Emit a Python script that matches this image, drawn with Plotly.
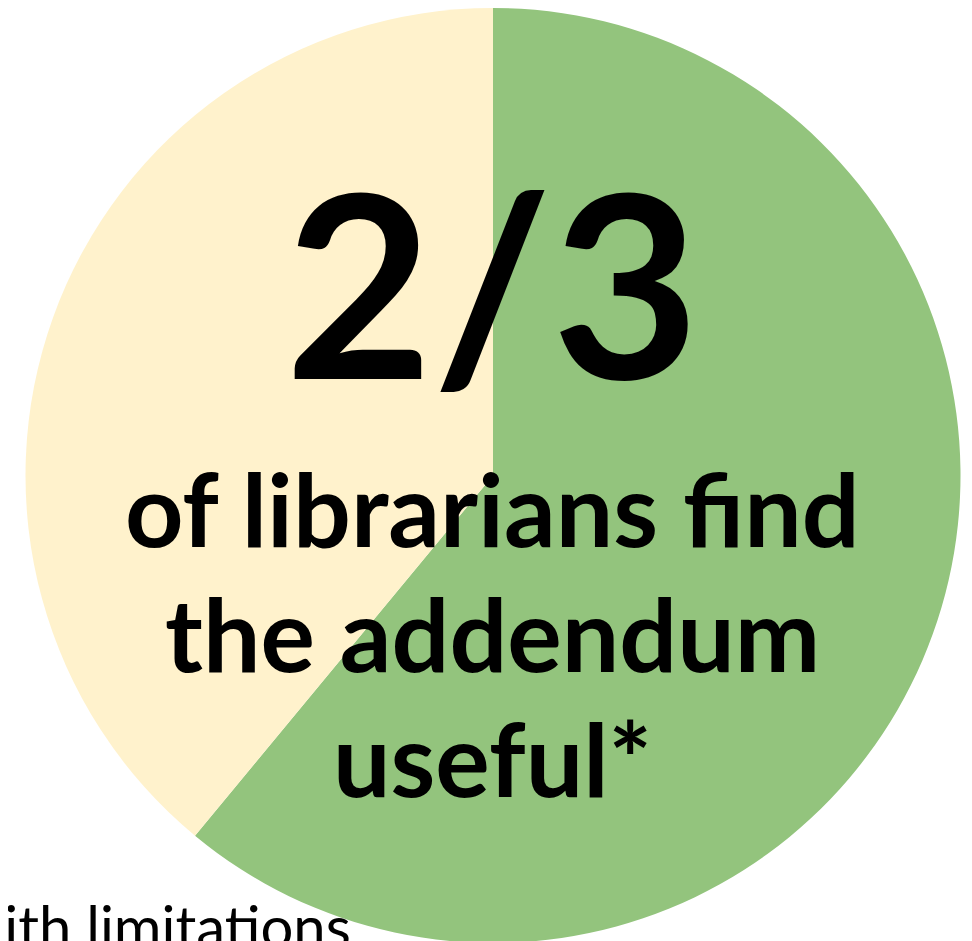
import plotly.graph_objects as go

labels = ["Useful", "Useful with limitations"]
values = [61, 39]
colors = ["#93C47D", "#FFF2CC"]

big_text = "2/3"
sub_lines = ["of librarians find", "the addendum", "useful*"]
side_label = "Useful with limitations"

W, H = 972, 941
# page body adds an 8px offset; positions below are in figure pixels
cx, r = 485, 467.5

fig = go.Figure(go.Pie(
    labels=labels, values=values, sort=False, direction="clockwise", rotation=0,
    marker=dict(colors=colors, line=dict(width=0)),
    textinfo="none", hoverinfo="label+percent",
    domain=dict(x=[(cx - r) / W, (cx + r) / W], y=[1 - 2 * r / H, 1.0]),
    showlegend=False,
))

font = "Lato, 'Open Sans', sans-serif"
fig.add_annotation(x=484 / W, y=1 - 272 / H, xref="paper", yref="paper",
                   text="<b>" + big_text + "</b>", showarrow=False,
                   font=dict(family=font, size=255, color="black"),
                   xanchor="center", yanchor="middle")
for i, line in enumerate(sub_lines):
    fig.add_annotation(x=484 / W, y=1 - (499 + 125 * i) / H, xref="paper", yref="paper",
                       text="<b>" + line + "</b>", showarrow=False,
                       font=dict(family=font, size=102, color="black"),
                       xanchor="center", yanchor="middle")
fig.add_annotation(x=345 / W, y=1 - 917 / H, xref="paper", yref="paper",
                   text=side_label, showarrow=False,
                   font=dict(family=font, size=58, color="black"),
                   xanchor="right", yanchor="middle")

fig.update_layout(width=W, height=H, margin=dict(l=0, r=0, t=0, b=0),
                  paper_bgcolor="white", plot_bgcolor="white")
fig.write_html("out.html")
